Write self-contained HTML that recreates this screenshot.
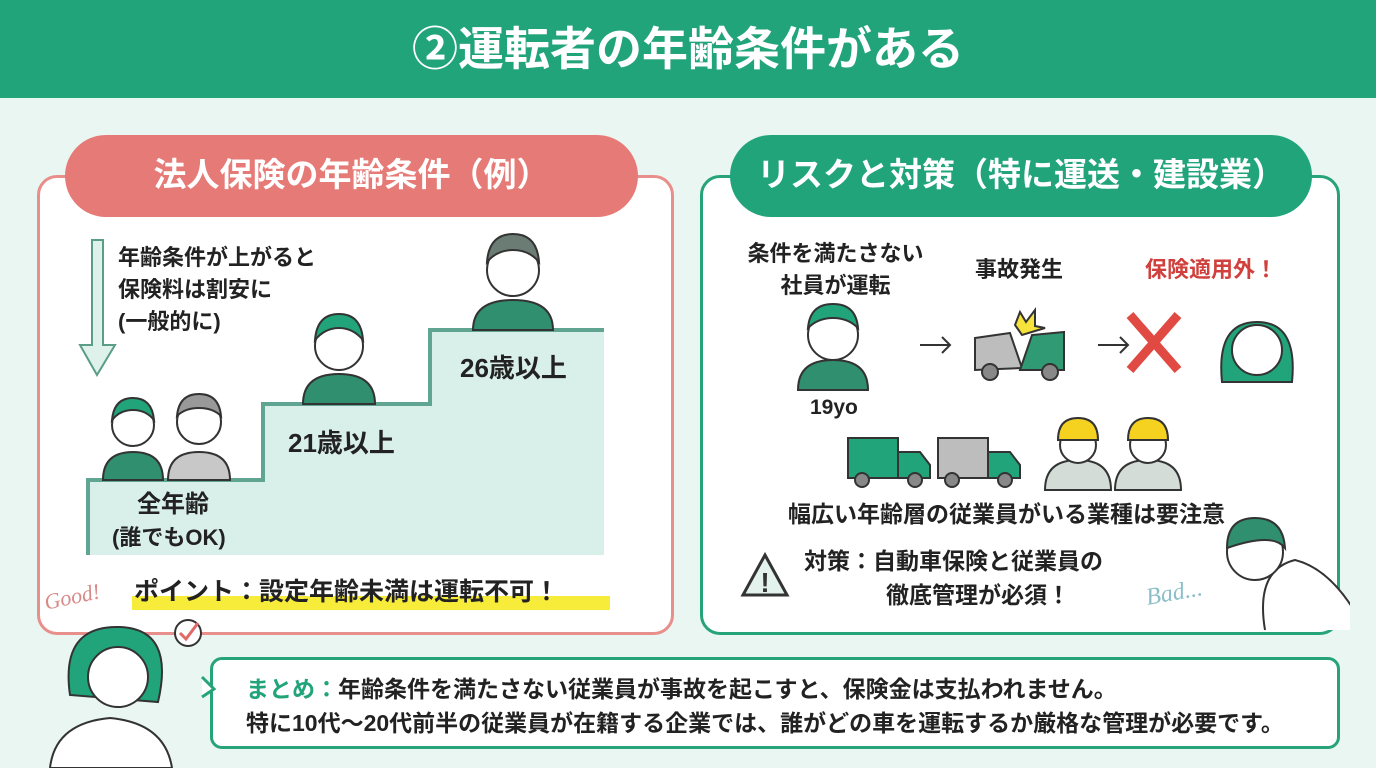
<!DOCTYPE html>
<html><head><meta charset="utf-8"><style>
*{margin:0;padding:0;box-sizing:border-box}
body{width:1376px;height:768px;background:#e9f6f1;position:relative;overflow:hidden;font-family:"Liberation Sans","Noto Sans CJK JP",sans-serif;font-weight:bold;color:#222}
.a{position:absolute;white-space:nowrap}
.hdr{left:0;top:0;width:1376px;height:98px;background:#22a47a;color:#fff;font-size:46px;text-align:center;line-height:98px}
.panel{border-radius:20px;background:#fff}
.pill{border-radius:42px;color:#fff;font-size:33px;text-align:center;line-height:80px}
.t22{font-size:22px;line-height:32px}
</style></head><body>
<div class="a hdr">②運転者の年齢条件がある</div>

<!-- left panel -->
<div class="a panel" style="left:37px;top:175px;width:637px;height:460px;border:3px solid #e88f8b"></div>
<div class="a pill" style="left:65px;top:135px;width:573px;height:82px;background:#e67a77">法人保険の年齢条件（例）</div>
<svg class="a" style="left:0;top:0" width="700" height="640">
<polygon points="92,240 103,240 103,345 115,345 97,375 80,345 92,345" fill="#dff1eb" stroke="#5a9d88" stroke-width="2"/>
<path d="M88,555 V480 H263 V404 H430 V330 H604 V555 Z" fill="#d9efe9"/>
<path d="M88,555 V480 H263 V404 H430 V330 H604" fill="none" stroke="#5fa591" stroke-width="4"/>
<g stroke="#333" stroke-width="2">
<path d="M473,330 q0,-30 40,-30 q40,0 40,30 Z" fill="#2f8f6f"/>
<circle cx="513" cy="270" r="26" fill="#fff"/><path d="M487,262 q2,-28 26,-28 q24,0 26,28 q-10,-12 -26,-12 q-16,0 -26,12Z" fill="#6b7c74"/>
<path d="M303,404 q0,-30 36,-30 q36,0 36,30 Z" fill="#2f8f6f"/>
<circle cx="339" cy="346" r="24" fill="#fff"/><path d="M315,340 q2,-26 24,-26 q22,0 24,26 q-10,-12 -24,-12 q-14,0 -24,12Z" fill="#22a47a"/>
<path d="M103,480 q0,-28 30,-28 q30,0 30,28 Z" fill="#2f8f6f"/>
<circle cx="133" cy="425" r="21" fill="#fff"/><path d="M112,420 q2,-22 21,-22 q19,0 21,22 q-8,-10 -21,-10 q-13,0 -21,10Z" fill="#22a47a"/>
<path d="M168,480 q0,-28 31,-28 q31,0 31,28 Z" fill="#c8c8c8"/>
<circle cx="199" cy="422" r="22" fill="#fff"/><path d="M177,416 q2,-22 22,-22 q20,0 22,22 q-8,-8 -22,-8 q-14,0 -22,8Z" fill="#999"/>
</g>
</svg>
<div class="a t22" style="left:118px;top:242px">年齢条件が上がると<br>保険料は割安に<br>(一般的に)</div>
<div class="a" style="left:460px;top:348px;font-size:26px">26歳以上</div>
<div class="a" style="left:288px;top:423px;font-size:26px">21歳以上</div>
<div class="a" style="left:137px;top:484px;font-size:24px">全年齢</div>
<div class="a" style="left:112px;top:520px;font-size:22px">(誰でもOK)</div>
<div class="a" style="left:132px;top:596px;width:478px;height:14px;background:#f7ec3a"></div>
<div class="a" style="left:134px;top:572px;font-size:25px">ポイント：設定年齢未満は運転不可！</div>
<div class="a" style="left:44px;top:584px;font-size:22px;color:#d98a88;font-weight:normal;font-style:italic;transform:rotate(-12deg);font-family:'Liberation Serif',serif">Good!</div>

<!-- right panel -->
<div class="a panel" style="left:700px;top:175px;width:640px;height:460px;border:3px solid #27a37a"></div>
<div class="a pill" style="left:730px;top:135px;width:582px;height:82px;background:#22a47a">リスクと対策（特に運送・建設業）</div>
<div class="a t22" style="left:728px;top:238px;text-align:center;width:215px">条件を満たさない<br>社員が運転</div>
<div class="a t22" style="left:975px;top:254px">事故発生</div>
<div class="a t22" style="left:1145px;top:254px;color:#d0403c">保険適用外！</div>
<div class="a" style="left:810px;top:396px;font-size:21px">19yo</div>
<svg class="a" style="left:690px;top:290px" width="660" height="350">
<g stroke="#333" stroke-width="2">
<path d="M108,100 q0,-30 35,-30 q35,0 35,30Z" fill="#2f8f6f"/>
<circle cx="143" cy="45" r="25" fill="#fff"/><path d="M118,38 q2,-24 25,-24 q23,0 25,24 q-10,-10 -25,-10 q-15,0 -25,10Z" fill="#22a47a"/>
<path d="M230,55 h30 M252,47 l8,8 -8,8 M408,55 h30 M430,47 l8,8 -8,8" fill="none"/>
<path d="M285,80 v-32 l35,-5 l12,35Z" fill="#bdbdbd"/><path d="M330,80 l12,-35 l32,-3 v38Z" fill="#2f9a74"/>
<circle cx="300" cy="82" r="8" fill="#888"/><circle cx="360" cy="82" r="8" fill="#888"/>
<polygon points="325,35 330,22 336,32 345,20 345,36 355,38 332,45" fill="#f5e23a"/>
<path d="M532,92 q-6,-60 35,-60 q41,0 35,60Z" fill="#22a47a"/><circle cx="567" cy="60" r="25" fill="#fff"/>
<path d="M158,188 v-40 h50 v40Z M208,188 v-26 h22 l10,13 v13Z" fill="#22a47a"/><circle cx="172" cy="190" r="7" fill="#888"/><circle cx="225" cy="190" r="7" fill="#888"/>
<path d="M248,188 v-40 h50 v40Z" fill="#bdbdbd"/><path d="M298,188 v-26 h22 l10,13 v13Z" fill="#22a47a"/><circle cx="262" cy="190" r="7" fill="#888"/><circle cx="315" cy="190" r="7" fill="#888"/>
<path d="M355,200 q0,-30 33,-30 q33,0 33,30Z M425,200 q0,-30 33,-30 q33,0 33,30Z" fill="#d4dcd8"/>
<circle cx="388" cy="155" r="18" fill="#fff"/><circle cx="458" cy="155" r="18" fill="#fff"/>
<path d="M368,150 q0,-22 20,-22 q20,0 20,22Z M438,150 q0,-22 20,-22 q20,0 20,22Z" fill="#f5d21f"/>
<polygon points="75,265 97,305 53,305" fill="#e3f2ec" stroke-width="3"/>
<path d="M575,340 q-10,-60 30,-70 q40,10 70,70" fill="#fff"/>
<circle cx="565" cy="262" r="28" fill="#fff"/><path d="M537,258 q0,-30 28,-30 q28,0 30,30 q-12,-16 -58,0Z" fill="#2f8f6f"/>
</g>
<path d="M440,25 l48,55 M488,25 l-48,55" stroke="#e04a43" stroke-width="9"/>
<text x="75" y="302" text-anchor="middle" font-size="28" font-family="Liberation Sans" fill="#333">!</text>
</svg>
<div class="a" style="left:788px;top:498px;font-size:23px;line-height:32px">幅広い年齢層の従業員がいる業種は要注意</div>
<div class="a" style="left:804px;top:544px;font-size:23px;line-height:34px">対策：自動車保険と従業員の<br><span style="padding-left:82px">徹底管理が必須！</span></div>
<div class="a" style="left:1146px;top:580px;font-size:24px;color:#8bbfc8;font-weight:normal;font-style:italic;transform:rotate(-10deg);font-family:'Liberation Serif',serif">Bad...</div>

<!-- bottom -->
<div class="a" style="left:210px;top:657px;width:1130px;height:92px;border:3px solid #27a37a;border-radius:12px;background:#fff"></div>
<div class="a" style="left:246px;top:672px;font-size:23px;line-height:34px"><span style="color:#22a47a">まとめ：</span>年齢条件を満たさない従業員が事故を起こすと、保険金は支払われません。<br>特に10代〜20代前半の従業員が在籍する企業では、誰がどの車を運転するか厳格な管理が必要です。</div>
<svg class="a" style="left:30px;top:615px" width="190" height="153">
<path d="M20,153 q5,-45 60,-50 q55,5 62,50Z" fill="#fff" stroke="#333" stroke-width="2"/>
<path d="M40,80 q-10,-70 50,-68 q55,2 38,75Z" fill="#22a47a" stroke="#333" stroke-width="2"/>
<circle cx="88" cy="62" r="30" fill="#fff" stroke="#333" stroke-width="2"/>
<circle cx="158" cy="18" r="13" fill="#fff" stroke="#333" stroke-width="2"/>
<path d="M150,18 l6,6 12,-16" stroke="#e06a67" stroke-width="3" fill="none"/>
<path d="M172,62 l12,12 -12,8" fill="#fff" stroke="#27a37a" stroke-width="3"/>
</svg>
</body></html>
